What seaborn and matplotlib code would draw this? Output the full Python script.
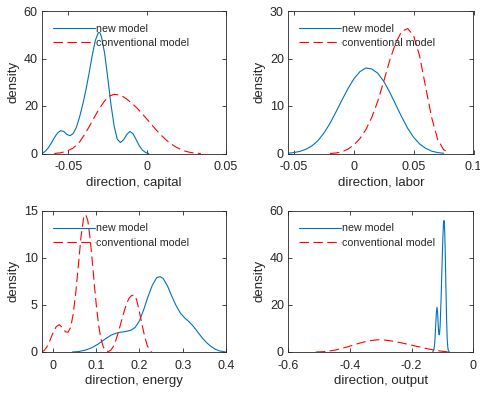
import matplotlib
matplotlib.use("Agg")
import matplotlib.pyplot as plt
import seaborn as sns

# ---- density estimates: capital direction ----
cap_new_x = [-0.0668, -0.065, -0.063, -0.061, -0.059, -0.057, -0.055, -0.053, -0.051, -0.049,
             -0.047, -0.045, -0.043, -0.041, -0.039, -0.037, -0.035, -0.033, -0.031, -0.030,
             -0.029, -0.027, -0.025, -0.023, -0.021, -0.019, -0.017, -0.015, -0.013, -0.011,
             -0.009, -0.007, -0.005, -0.003, -0.001, 0.001]
cap_new_y = [0.0, 0.8, 2.2, 4.3, 6.6, 8.6, 9.6, 9.3, 8.0, 7.5,
             8.4, 11.0, 15.2, 20.5, 26.5, 33.5, 41.0, 47.5, 51.0, 50.8,
             49.0, 42.0, 31.5, 20.5, 11.5, 6.0, 4.6, 5.8, 8.0, 9.3,
             8.3, 5.8, 3.2, 1.4, 0.4, 0.0]
cap_conv_x = [-0.059, -0.055, -0.051, -0.047, -0.043, -0.039, -0.035, -0.031, -0.027, -0.024,
              -0.021, -0.018, -0.015, -0.012, -0.009, -0.006, -0.003, 0.0, 0.003, 0.006,
              0.009, 0.012, 0.015, 0.018, 0.021, 0.024, 0.027, 0.030, 0.034]
cap_conv_y = [0.0, 0.3, 1.0, 2.3, 4.8, 8.8, 13.5, 18.3, 22.2, 24.2,
              24.9, 24.7, 23.8, 22.4, 20.7, 18.8, 16.6, 14.3, 12.0, 9.7,
              7.6, 5.7, 4.1, 2.8, 1.8, 1.0, 0.5, 0.2, 0.0]

# ---- density estimates: labor direction ----
lab_new_x = [-0.055, -0.050, -0.045, -0.040, -0.035, -0.030, -0.025, -0.020, -0.015, -0.010,
             -0.005, 0.000, 0.005, 0.010, 0.015, 0.020, 0.025, 0.030, 0.035, 0.040,
             0.045, 0.050, 0.055, 0.060, 0.065, 0.070, 0.075]
lab_new_y = [0.05, 0.2, 0.45, 0.9, 1.6, 2.7, 4.3, 6.3, 8.7, 11.2,
             13.6, 15.7, 17.2, 18.0, 17.8, 16.9, 15.2, 12.9, 10.3, 7.7,
             5.3, 3.4, 2.0, 1.1, 0.5, 0.2, 0.05]
lab_conv_x = [-0.020, -0.015, -0.010, -0.005, 0.000, 0.005, 0.010, 0.015, 0.020, 0.025,
              0.030, 0.035, 0.040, 0.045, 0.050, 0.055, 0.060, 0.065, 0.070, 0.075, 0.080]
lab_conv_y = [0.0, 0.1, 0.35, 0.9, 1.8, 3.1, 5.0, 7.6, 11.0, 15.2,
              19.6, 23.3, 25.7, 26.3, 24.8, 20.5, 14.0, 7.6, 3.0, 0.8, 0.1]

# ---- density estimates: energy direction ----
ene_new_x = [0.045, 0.06, 0.075, 0.09, 0.105, 0.12, 0.135, 0.15, 0.165, 0.18,
             0.19, 0.20, 0.21, 0.22, 0.23, 0.24, 0.248, 0.255, 0.265, 0.275,
             0.285, 0.295, 0.305, 0.315, 0.325, 0.335, 0.345, 0.355, 0.365, 0.375,
             0.385, 0.395, 0.40]
ene_new_y = [0.0, 0.05, 0.2, 0.45, 0.85, 1.35, 1.8, 2.05, 2.15, 2.3,
             2.6, 3.3, 4.5, 5.9, 7.1, 7.9, 8.0, 7.8, 7.0, 5.9,
             4.9, 4.1, 3.6, 3.2, 2.7, 2.1, 1.5, 1.0, 0.6, 0.3,
             0.12, 0.03, 0.0]
ene_conv_x = [-0.027, -0.02, -0.013, -0.006, 0.001, 0.008, 0.015, 0.022, 0.029, 0.035,
              0.041, 0.047, 0.053, 0.059, 0.065, 0.071, 0.076, 0.081, 0.086, 0.091,
              0.096, 0.101, 0.106, 0.111, 0.117, 0.123, 0.128, 0.134, 0.140, 0.146,
              0.152, 0.158, 0.164, 0.170, 0.176, 0.182, 0.188, 0.193, 0.198, 0.203,
              0.208, 0.213, 0.218, 0.223, 0.228]
ene_conv_y = [0.0, 0.15, 0.6, 1.3, 2.1, 2.7, 2.9, 2.6, 2.15, 2.1,
              2.6, 4.0, 6.3, 9.2, 12.2, 14.2, 14.6, 13.9, 12.1, 9.7,
              7.1, 4.7, 2.8, 1.4, 0.5, 0.1, 0.05, 0.2, 0.6, 1.3,
              2.2, 3.2, 4.2, 5.1, 5.7, 6.0, 6.05, 5.6, 4.7, 3.6,
              2.5, 1.5, 0.7, 0.25, 0.0]

# ---- density estimates: output direction ----
out_new_x = [-0.132, -0.128, -0.125, -0.122, -0.120, -0.118, -0.116, -0.114, -0.112, -0.110,
             -0.108, -0.105, -0.102, -0.099, -0.097, -0.095, -0.093, -0.091, -0.089, -0.087,
             -0.085, -0.083, -0.081, -0.078]
out_new_y = [0.0, 1.0, 4.5, 12.0, 17.0, 19.0, 16.5, 11.0, 7.5, 7.3,
             11.0, 22.0, 36.0, 49.0, 54.5, 55.8, 51.0, 40.0, 26.0, 13.5,
             5.5, 1.8, 0.4, 0.0]
out_conv_x = [-0.51, -0.49, -0.47, -0.45, -0.43, -0.41, -0.39, -0.37, -0.35, -0.33,
              -0.31, -0.29, -0.27, -0.25, -0.23, -0.21, -0.19, -0.17, -0.15, -0.13,
              -0.11, -0.09, -0.08]
out_conv_y = [0.0, 0.1, 0.35, 0.75, 1.35, 2.1, 2.9, 3.7, 4.4, 4.9,
              5.2, 5.1, 4.8, 4.3, 3.8, 3.2, 2.6, 2.0, 1.4, 0.9,
              0.45, 0.15, 0.0]

series_names = ["new model", "conventional model"]
x_titles = ["direction, capital", "direction, labor", "direction, energy", "direction, output"]
y_title = "density"

x_ticks = [[-0.05, 0, 0.05], [-0.05, 0, 0.05, 0.1], [0, 0.1, 0.2, 0.3, 0.4], [-0.6, -0.4, -0.2, 0]]
x_tick_labels = [["-0.05", "0", "0.05"], ["-0.05", "0", "0.05", "0.1"],
                 ["0", "0.1", "0.2", "0.3", "0.4"], ["-0.6", "-0.4", "-0.2", "0"]]
y_ticks = [[0, 20, 40, 60], [0, 10, 20, 30], [0, 5, 10, 15], [0, 20, 40, 60]]
x_limits = [(-0.0668, 0.05), (-0.055, 0.1), (-0.025, 0.4), (-0.6, 0.0)]

panels = [
    (cap_new_x, cap_new_y, cap_conv_x, cap_conv_y),
    (lab_new_x, lab_new_y, lab_conv_x, lab_conv_y),
    (ene_new_x, ene_new_y, ene_conv_x, ene_conv_y),
    (out_new_x, out_new_y, out_conv_x, out_conv_y),
]

sns.set_theme(style="ticks")
plt.rcParams["font.family"] = ["Liberation Sans", "DejaVu Sans"]
plt.rcParams["axes.unicode_minus"] = False

axis_color = "#262626"
blue = "#0072BD"
red = "#FF0000"

fig = plt.figure(figsize=(4.81, 3.96), dpi=100)
W, H = 481.0, 396.0
boxes = [
    (42, 11, 226, 153.5),
    (288, 11, 473.5, 153.5),
    (42, 210.7, 226, 352),
    (288, 210.7, 473.5, 352),
]

for i, (x0, y0, x1, y1) in enumerate(boxes):
    ax = fig.add_axes([x0 / W, 1 - y1 / H, (x1 - x0) / W, (y1 - y0) / H])
    nx, ny, cx, cy = panels[i]
    sns.lineplot(x=nx, y=ny, ax=ax, color=blue, lw=0.8, label=series_names[0],
                 estimator=None, sort=False)
    sns.lineplot(x=cx, y=cy, ax=ax, color=red, lw=0.8, label=series_names[1],
                 estimator=None, sort=False, linestyle=(0, (8.5, 4)))
    ax.set_xlim(*x_limits[i])
    ax.set_ylim(y_ticks[i][0], y_ticks[i][-1])
    ax.set_xticks(x_ticks[i])
    ax.set_xticklabels(x_tick_labels[i])
    ax.set_yticks(y_ticks[i])
    ax.set_yticklabels([str(v) for v in y_ticks[i]])
    for side in ["top", "right", "bottom", "left"]:
        ax.spines[side].set_visible(True)
        ax.spines[side].set_color(axis_color)
        ax.spines[side].set_linewidth(0.6)
    ax.tick_params(direction="in", length=3, width=0.6, colors=axis_color,
                   labelsize=9, top=True, right=True)
    ax.tick_params(axis="x", pad=5.5)
    ax.tick_params(axis="y", pad=3)
    ax.set_xlabel(x_titles[i], fontsize=9.5, color=axis_color, labelpad=2.5)
    ax.set_ylabel(y_title, fontsize=9.5, color=axis_color, labelpad=3)
    leg = ax.legend(loc="upper left", bbox_to_anchor=(0.06, 0.91), frameon=False,
                    fontsize=7.7, handlelength=3.9, handletextpad=0.15,
                    borderpad=0, borderaxespad=0, labelspacing=0.4)
    for t in leg.get_texts():
        t.set_color(axis_color)

fig.savefig("out.png", dpi=100)
